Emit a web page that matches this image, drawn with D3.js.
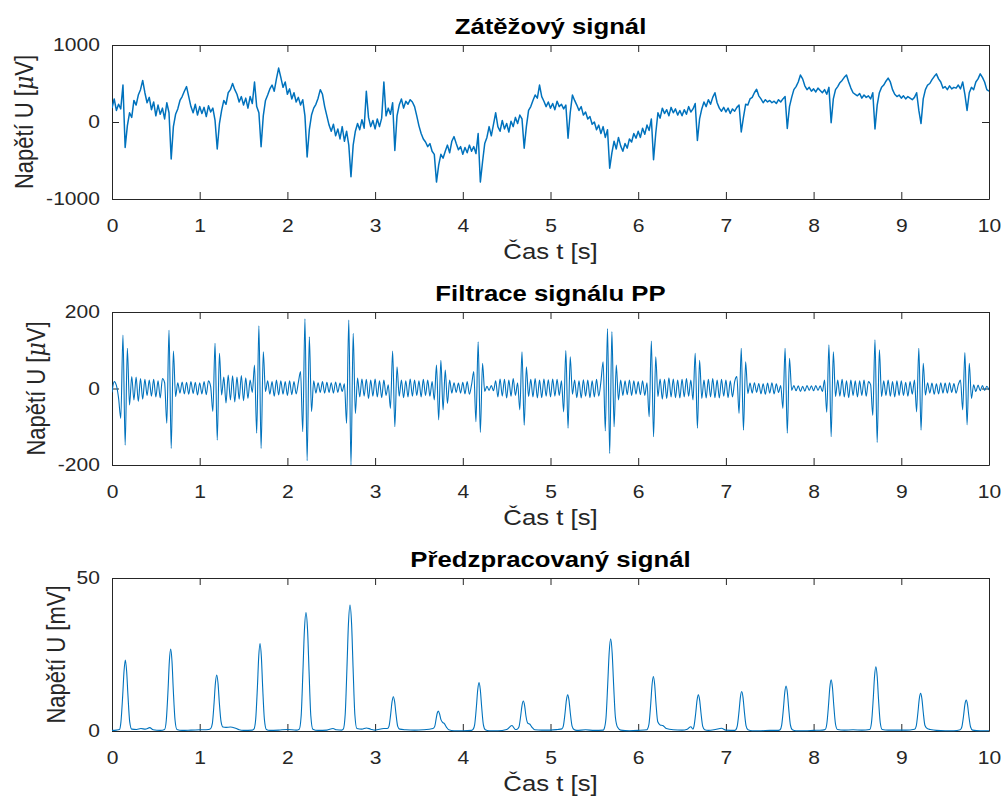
<!DOCTYPE html>
<html>
<head>
<meta charset="utf-8">
<script src="https://cdn.jsdelivr.net/npm/d3@7"></script>
<style>
  body { margin: 0; background: #fff; }
  svg { display: block; }
</style>
</head>
<body>
<script>
// vzorkovani signalu 1 a 2 (40 vzorku za sekundu, 0..10 s)
const fs = 40;

const casTicks = [0, 1, 2, 3, 4, 5, 6, 7, 8, 9, 10];

// Zatezovy signal [uV]
const zatezU = [
  180, 300, 150, 230, 170, 480, -330, -50, 120, 60, 280, 220, 350, 420, 540, 380, 250, 320, 160, 260,
  80, 220, 100, 180, 40, 250, 120, -480, -60, 100, 170, 280, 330, 400, 460, 330, 200, 120, 230, 90,
  200, 110, 190, 70, 210, 130, 180, 20, -350, -20, 150, 280, 230, 380, 420, 500, 420, 360, 260, 330,
  220, 310, 180, 330, 240, 520, 200, 120, -320, 80, 280, 350, 430, 480, 400, 560, 700, 580, 450, 520,
  360, 430, 300, 380, 260, 320, 220, 290, 80, -455, -100, 90, 180, 230, 310, 420, 360, 200, 80, -40,
  -120, -30, -180, -90, -220, -60, -250, -120, -300, -710, -300, -120, -20, -100, 30, -80, 400, 60, -60, 20,
  -90, 40, -60, 50, 520, 80, 180, 100, 250, -370, 80, 220, 300, 180, 270, 230, 290, 260, 200, 80,
  -50, -150, -220, -260, -320, -280, -380, -420, -780, -560, -420, -470, -380, -300, -400, -250, -190, -280, -360, -320,
  -420, -330, -400, -300, -380, -320, -410, -150, -780, -520, -280, -200, -60, -180, -30, 120, -60, -120, 20, -90,
  -20, -130, 10, -60, 60, -20, 90, 40, -340, -60, 150, 200, 280, 350, 310, 480, 330, 270, 200, 260,
  180, 240, 160, 270, 200, 230, 170, 220, -210, 120, 350, 280, 220, 150, 200, 90, 130, 40, 70, -30,
  0, -100, -40, -150, -60, -200, -100, -600, -400, -250, -350, -200, -310, -380, -280, -340, -220, -260, -150, -210,
  -120, -200, -80, -160, -40, -110, 40, -490, -150, 120, 50, 180, 110, 160, 80, 190, 120, 170, 90, 150,
  80, 160, 100, 200, 130, 170, 240, -240, 40, 170, 260, 200, 290, 230, 320, 380, 250, 180, 140, 190,
  130, 180, 110, 170, 140, 190, 220, -130, 60, 230, 220, 300, 320, 380, 425, 340, 300, 250, 290, 260,
  280, 250, 270, 240, 290, 260, 300, 330, -85, 200, 320, 420, 460, 520, 610, 560, 470, 420, 450, 400,
  430, 390, 440, 410, 380, 420, 360, 450, -10, 300, 420, 460, 510, 540, 580, 610, 520, 440, 380, 360,
  340, 370, 310, 350, 320, 340, 300, 380, -90, 220, 380, 450, 480, 530, 570, 520, 420, 360, 330, 350,
  310, 340, 300, 330, 310, 290, 320, 380, 150, -20, 300, 420, 480, 500, 550, 590, 625, 560, 520, 440,
  460, 420, 470, 430, 450, 440, 480, 430, 520, 360, 150, 380, 450, 420, 520, 560, 625, 580, 520, 420,
  400
];
const zatezTicks = [-1000, 0, 1000];

// Filtrace signalu PP [uV]
const filtrU = [
  -10, 18, 8, -25, -78, 140, -148, 105, -43, 31, -30, 30, -34, 26, -28, 24, -18, 22, -20, 24,
  -22, 20, -25, 26, 15, -91, 153, -157, 98, -21, 15, -12, 17, -14, 16, -15, 18, -13, 16, -17,
  15, -14, 18, -16, 20, 5, -60, 118, -135, 92, -17, 30, -38, 35, -30, 33, -35, 30, -28, 34,
  -32, 28, -26, 22, -10, 61, -117, 164, -157, 96, -8, 20, -15, 18, -20, 22, -17, 20, -15, 18,
  -18, 20, -16, 18, -14, 16, 44, -113, 182, -189, 135, -60, 20, -12, 15, -10, 18, -12, 16, -10,
  15, -12, 17, -10, 14, -8, 12, -91, 179, -200, 144, -65, 27, -22, 25, -20, 24, -26, 22, -20,
  25, -22, 20, -24, 22, -18, 10, -52, 98, -100, 57, -20, 22, -24, 20, -22, 25, -20, 22, -18,
  20, -22, 24, -18, 22, -20, 18, -30, 61, -82, 74, -56, 48, -39, 22, -12, 15, -10, 14, -12,
  16, -14, 18, -15, 10, 44, -87, 122, -115, 66, -8, 6, -5, 8, -6, 20, -22, 25, -20, 24,
  -25, 22, -20, 26, -18, 15, -56, 96, -96, 57, -21, 24, -22, 26, -25, 22, -24, 25, -20, 23,
  -22, 25, -20, 24, -18, 20, -61, 99, -104, 83, -15, 22, -24, 20, -25, 23, -20, 22, -24, 20,
  -22, 24, -20, 18, 70, -111, 157, -170, 149, -100, 61, -30, 22, -18, 20, -16, 22, -18, 20, -15,
  18, -16, 20, -18, 15, -74, 124, -126, 83, -21, 25, -28, 24, -26, 28, -22, 25, -24, 22, -25,
  24, -22, 26, -20, 22, -30, 92, -104, 74, -26, 22, -25, 24, -22, 26, -24, 22, -25, 24, -20,
  22, -24, 20, -22, 18, 31, -65, 105, -109, 70, -13, 14, -12, 15, -10, 13, -14, 12, -15, 14,
  -12, 15, -14, 12, -10, 8, -52, 105, -117, 79, -5, 8, -6, 7, -8, 6, -7, 8, -5, 7,
  -6, 8, -5, 7, -8, 22, -62, 114, -126, 96, -21, 22, -20, 24, -22, 20, -24, 22, -18, 20,
  -22, 20, -18, 22, -20, 18, 10, -70, 127, -141, 101, -21, 20, -18, 22, -20, 18, -22, 20, -18,
  20, -18, 16, -20, 18, -15, 22, -61, 105, -109, 66, -17, 15, -12, 14, -15, 12, -14, 15, -12,
  14, -12, 15, -10, 13, -12, 10, 22, -56, 94, -95, 66, -26, 10, -8, 9, -6, 8, -5, 6,
  -4
];
const filtrTicks = [-200, 0, 200];

// Predzpracovany signal [mV] - body [t, U]
const predzpr = [
  [0, 0.2], [0.05, 0.3], [0.085, 0.5],
  [0.102, 3], [0.122, 11.6], [0.137, 19.5], [0.152, 23.2], [0.167, 19.5], [0.182, 11.6], [0.202, 3], [0.225, 0.6],
  [0.28, 0.5], [0.33, 0.8], [0.38, 0.6], [0.43, 1.1], [0.47, 0.4], [0.55, 0.2], [0.6, 0.5],
  [0.619, 3.5], [0.639, 13.4], [0.654, 22.8], [0.669, 26.8], [0.684, 22.8], [0.699, 13.4], [0.719, 3.5], [0.74, 0.5],
  [0.8, 0.2], [0.9, 0.3], [1.0, 0.4], [1.1, 0.5], [1.125, 0.8],
  [1.144, 2.4], [1.164, 9.2], [1.179, 15.6], [1.194, 18.3], [1.209, 15.6], [1.224, 9.2], [1.244, 3], [1.265, 1.3],
  [1.3, 1.2], [1.35, 1.3], [1.4, 1.0], [1.45, 0.4], [1.5, 0.2], [1.6, 0.3], [1.618, 0.6],
  [1.638, 3.7], [1.658, 14.3], [1.673, 24.3], [1.688, 28.6], [1.703, 24.3], [1.718, 14.3], [1.738, 3.7], [1.76, 0.5],
  [1.8, 0.2], [1.9, 0.3], [2.0, 0.5], [2.1, 0.3], [2.135, 0.6],
  [2.157, 5], [2.177, 19.4], [2.194, 32.9], [2.212, 38.7], [2.23, 32.9], [2.247, 19.4], [2.267, 5], [2.29, 0.6],
  [2.35, 0.2], [2.45, 0.3], [2.52, 0.8], [2.56, 0.4], [2.62, 0.3], [2.637, 0.6],
  [2.659, 5.4], [2.679, 20.6], [2.696, 35], [2.714, 41.2], [2.732, 35], [2.749, 20.6], [2.769, 5.4], [2.792, 0.8],
  [2.85, 0.6], [2.9, 1], [2.95, 0.6], [3.0, 0.3], [3.1, 0.8], [3.14, 0.8],
  [3.158, 1.5], [3.178, 5.6], [3.193, 9.5], [3.208, 11.2], [3.223, 9.5], [3.238, 5.6], [3.258, 1.5], [3.28, 0.6],
  [3.35, 0.4], [3.45, 0.3], [3.55, 0.4], [3.66, 0.8],
  [3.68, 1.5], [3.695, 3.8], [3.708, 5.8], [3.72, 6.5], [3.735, 5.6], [3.75, 3.8], [3.77, 2.8], [3.79, 2.4], [3.815, 1.2], [3.84, 0.4],
  [3.9, 0.1], [4.0, 0.1], [4.1, 0.2], [4.117, 0.5],
  [4.135, 2], [4.155, 7.9], [4.17, 13.4], [4.185, 15.8], [4.2, 13.4], [4.215, 7.9], [4.235, 2], [4.257, 0.4],
  [4.3, 0.1], [4.4, 0.1], [4.5, 0.5], [4.56, 1.8], [4.6, 0.5], [4.62, 0.6],
  [4.64, 1.3], [4.66, 4.9], [4.675, 8.3], [4.69, 9.8], [4.705, 8.3], [4.72, 4.9], [4.74, 2.6], [4.765, 2.2], [4.79, 1.2], [4.82, 0.4],
  [4.9, 0.3], [5.0, 0.3], [5.08, 0.5], [5.13, 0.7],
  [5.146, 1.6], [5.166, 5.9], [5.181, 10], [5.196, 11.8], [5.211, 10], [5.226, 5.9], [5.246, 1.6], [5.268, 0.5],
  [5.3, 0.2], [5.4, 0.4], [5.5, 0.2], [5.6, 0.3], [5.61, 0.6],
  [5.632, 4], [5.652, 15], [5.669, 25.6], [5.686, 30.1], [5.703, 25.6], [5.72, 15], [5.74, 4.5], [5.765, 1.2], [5.8, 0.3],
  [5.9, 0.1], [6.0, 0.2], [6.1, 0.4], [6.105, 0.6],
  [6.123, 2.3], [6.143, 8.9], [6.158, 15.1], [6.173, 17.8], [6.188, 15.1], [6.203, 8.9], [6.223, 3], [6.25, 2], [6.28, 1.8], [6.32, 0.8],
  [6.4, 0.4], [6.5, 0.3], [6.56, 0.6], [6.6, 1.4], [6.625, 0.6],
  [6.636, 1.5], [6.656, 5.9], [6.671, 10], [6.686, 11.8], [6.701, 10], [6.716, 5.9], [6.736, 1.5], [6.758, 0.4],
  [6.8, 0.2], [6.88, 0.5], [6.95, 0.9], [7.0, 0.3], [7.1, 0.2], [7.112, 0.4],
  [7.13, 1.7], [7.15, 6.5], [7.165, 11], [7.18, 12.9], [7.195, 11], [7.21, 6.5], [7.23, 1.7], [7.252, 0.4],
  [7.3, 0.1], [7.4, 0.1], [7.5, 0.2], [7.6, 0.2], [7.618, 0.4],
  [7.636, 1.9], [7.656, 7.4], [7.671, 12.5], [7.686, 14.7], [7.701, 12.5], [7.716, 7.4], [7.736, 1.9], [7.758, 0.4],
  [7.8, 0.1], [7.9, 0.1], [8.0, 0.2], [8.1, 0.3], [8.132, 0.5],
  [8.15, 2.2], [8.17, 8.4], [8.185, 14.2], [8.2, 16.7], [8.215, 14.2], [8.23, 8.4], [8.25, 2.2], [8.272, 0.5],
  [8.35, 0.3], [8.45, 0.4], [8.55, 0.3], [8.64, 0.5],
  [8.66, 2.7], [8.68, 10.5], [8.695, 17.9], [8.71, 21], [8.725, 17.9], [8.74, 10.5], [8.76, 2.7], [8.782, 0.5],
  [8.85, 0.3], [8.95, 0.3], [9.05, 0.3], [9.152, 0.6],
  [9.17, 1.6], [9.19, 6.2], [9.205, 10.5], [9.22, 12.3], [9.235, 10.5], [9.25, 6.2], [9.27, 1.8], [9.3, 0.7], [9.33, 0.5],
  [9.4, 0.2], [9.5, 0.1], [9.6, 0.1], [9.672, 0.4],
  [9.69, 1.3], [9.71, 5], [9.725, 8.6], [9.74, 10.1], [9.755, 8.6], [9.77, 5], [9.79, 1.3], [9.812, 0.3],
  [9.9, 0.1], [10.0, 0.1]
];
const predTicks = [0, 50];


const width = 1003;
const height = 802;
const left = 112;
const right = 989;
const sx = 1.17; // obrazek je vodorovne roztazeny
const font = "'Liberation Sans', Arial, Helvetica, sans-serif";
const ink = '#262626';
const blue = '#0072BD';

const svg = d3
  .select('body')
  .append('svg')
  .attr('width', width)
  .attr('height', height);

const x = d3.scaleLinear().domain([0, 10]).range([left, right]);

const panels = [
  {
    title: 'Zátěžový signál', unit: 'mu', data: zatezU.map((u, i) => [i / fs, u]),
    domain: [-1000, 1000], ticks: zatezTicks, top: 45, bottom: 199, labelX: 33,
    curve: d3.curveLinear, lw: 1.5
  },
  {
    title: 'Filtrace signálu PP', unit: 'mu', data: filtrU.map((u, i) => [i / fs, u]),
    domain: [-200, 200], ticks: filtrTicks, top: 312, bottom: 465, labelX: 45,
    curve: d3.curveMonotoneX, lw: 1.1
  },
  {
    title: 'Předzpracovaný signál', unit: 'mV', data: predzpr,
    domain: [0, 50], ticks: predTicks, top: 578, bottom: 731, labelX: 65,
    curve: d3.curveMonotoneX, lw: 1.1
  }
];

const styleAxis = (sel) => {
  sel.attr('font-family', font).attr('font-size', 18);
  sel.select('.domain').attr('stroke', ink).attr('stroke-width', 1);
  sel.selectAll('.tick line').attr('stroke', ink).attr('stroke-width', 1);
  sel.selectAll('.tick text').attr('fill', ink).attr('transform', `scale(${sx},1)`);
};

panels.forEach((p, i) => {
  const y = d3.scaleLinear().domain(p.domain).range([p.bottom, p.top]);
  const g = svg.append('g');

  // osy (box)
  g.append('g')
    .attr('transform', `translate(0,${p.bottom})`)
    .call(d3.axisBottom(x).tickValues(casTicks).tickSizeInner(-7).tickSizeOuter(0)
      .tickPadding(20).tickFormat(d => String(d)))
    .call(styleAxis);
  g.append('g')
    .attr('transform', `translate(0,${p.top})`)
    .call(d3.axisTop(x).tickValues(casTicks).tickSizeInner(-7).tickSizeOuter(0).tickFormat(''))
    .call(styleAxis);
  g.append('g')
    .attr('transform', `translate(${left},0)`)
    .call(d3.axisLeft(y).tickValues(p.ticks).tickSizeInner(-7).tickSizeOuter(0)
      .tickPadding(10.3).tickFormat(d => String(d)))
    .call(styleAxis);
  g.append('g')
    .attr('transform', `translate(${right},0)`)
    .call(d3.axisRight(y).tickValues(p.ticks).tickSizeInner(-7).tickSizeOuter(0).tickFormat(''))
    .call(styleAxis);

  // signal
  g.append('clipPath')
    .attr('id', 'clip' + i)
    .append('rect')
    .attr('x', left).attr('y', p.top - 1)
    .attr('width', right - left).attr('height', p.bottom - p.top + 2);

  g.append('path')
    .datum(p.data)
    .attr('clip-path', `url(#clip${i})`)
    .attr('fill', 'none')
    .attr('stroke', blue)
    .attr('stroke-width', p.lw)
    .attr('stroke-linejoin', 'round')
    .attr('d', d3.line().x(d => x(d[0])).y(d => y(d[1])).curve(p.curve));

  // titulek
  g.append('text')
    .attr('transform', `translate(${(left + right) / 2},${p.top - 11.5}) scale(${sx},1)`)
    .attr('text-anchor', 'middle')
    .attr('font-family', font)
    .attr('font-weight', 'bold')
    .attr('font-size', 22)
    .attr('fill', '#000')
    .text(p.title);

  // popis osy x
  g.append('text')
    .attr('transform', `translate(${(left + right) / 2},${p.bottom + 60}) scale(${sx},1)`)
    .attr('text-anchor', 'middle')
    .attr('font-family', font)
    .attr('font-size', 22)
    .attr('fill', ink)
    .text('Čas t [s]');

  // popis osy y
  const yl = g.append('text')
    .attr('transform', `translate(${p.labelX},${(p.top + p.bottom) / 2}) scale(${sx},1) rotate(-90)`)
    .attr('text-anchor', 'middle')
    .attr('font-family', font)
    .attr('font-size', 22)
    .attr('fill', ink);
  if (p.unit === 'mu') {
    yl.append('tspan').text('Napětí U [');
    yl.append('tspan')
      .attr('font-family', "'DejaVu Serif', 'Liberation Serif', serif")
      .attr('font-style', 'italic')
      .text('μ');
    yl.append('tspan').text('V]');
  } else {
    yl.text('Napětí U [mV]');
  }
});
</script>
</body>
</html>
